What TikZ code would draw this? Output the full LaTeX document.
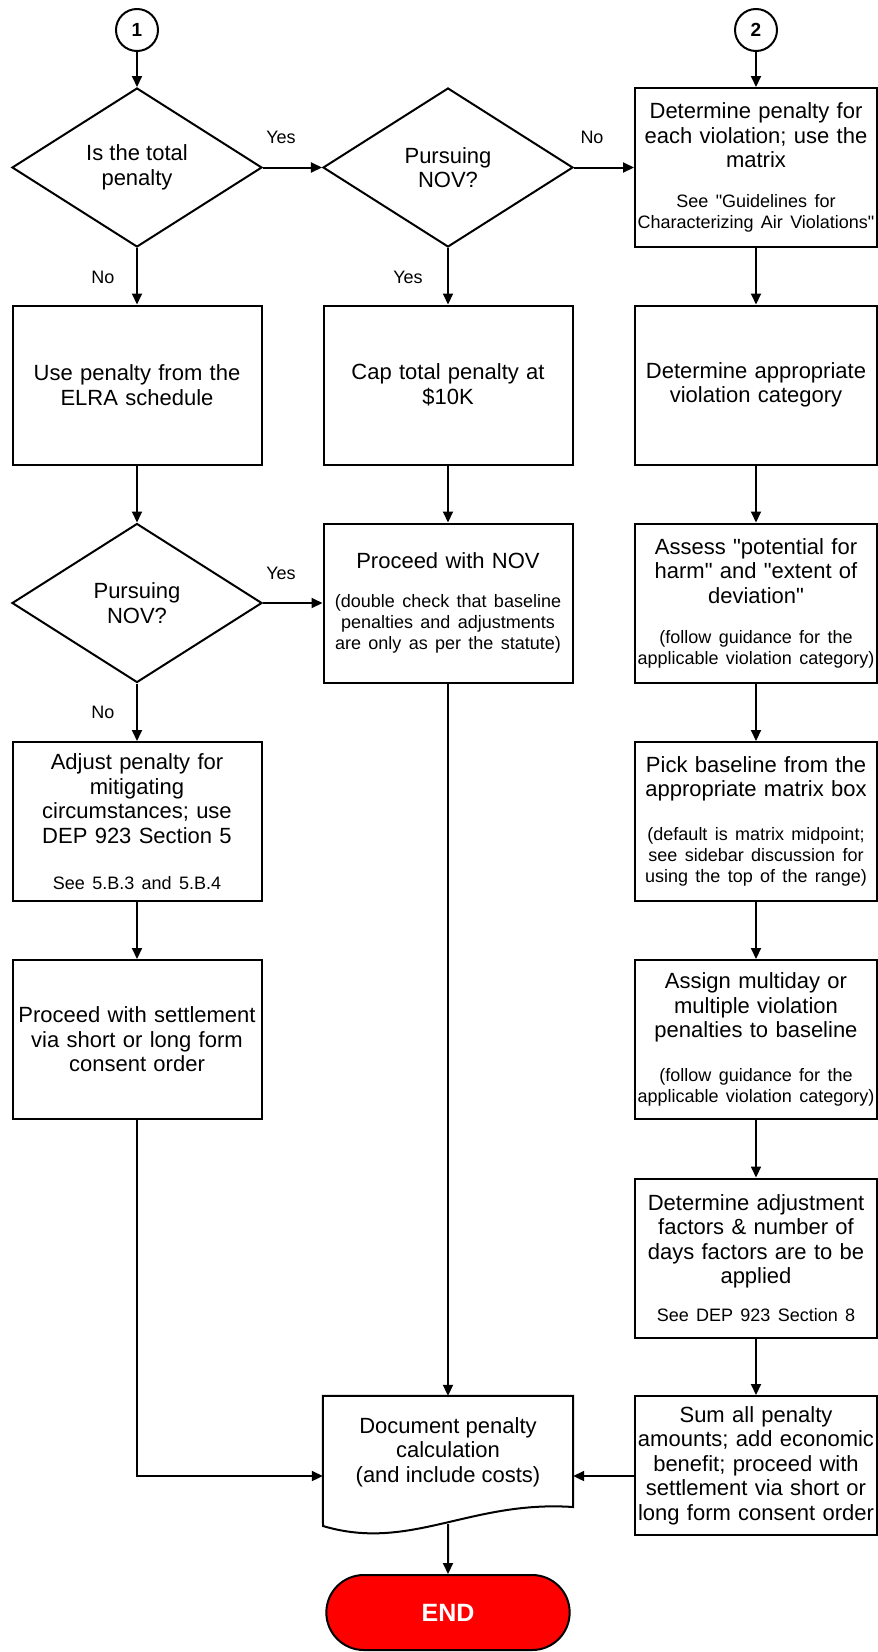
\documentclass[tikz,border=0pt]{standalone}
\usepackage{fontspec}
\setmainfont{Liberation Sans}[Ligatures=TeXOff]
\usetikzlibrary{shapes.geometric,shapes.misc,arrows.meta}
\newcommand{\mainfs}{\fontsize{22}{24.5}\selectfont}
\newcommand{\smallfs}{\fontsize{18}{21}\selectfont}
\newcommand{\lblfs}{\fontsize{18}{21}\selectfont}
\newcommand{\subtxt}[2]{\par\vspace{#1}{\smallfs #2\par}}
\begin{document}
\begin{tikzpicture}[x=1pt,y=-1pt,
  arr/.style={line width=2pt,-{Triangle[length=11pt,width=10pt]}},
  box/.style={draw,line width=2pt,rectangle,inner sep=0pt,minimum height=159pt,align=center,font=\mainfs},
  lbox/.style={box,minimum width=249pt,text width=245pt},
  rbox/.style={box,minimum width=242pt,text width=238pt},
  dec/.style={draw,line width=2pt,diamond,aspect=1.57,inner sep=0pt,minimum width=250pt,minimum height=159pt,align=center,font=\mainfs},
  conn/.style={draw,line width=2pt,circle,minimum size=42pt,inner sep=0pt,font=\fontsize{19}{21}\selectfont\bfseries},
  lbl/.style={font=\lblfs,inner sep=0pt},
  term/.style={draw,line width=2pt,rounded rectangle,fill=red,minimum width=250pt,minimum height=75pt,font=\fontsize{25}{28}\selectfont\bfseries,text=white}
]
\useasboundingbox (0,0) rectangle (878,1652);

% connectors (circles)
\node[conn] (c1) at (137,30) {1};
\node[conn] (c2) at (756,30) {2};

% row 1
\node[dec] (d1) at (137,167.5) {Is the total\\penalty};
\node[dec] (d2) at (448,167.5) {Pursuing\\NOV?};
\node[rbox] (r1) at (756,167.5) {Determine penalty for\\each violation; use the\\matrix\subtxt{19pt}{See "Guidelines for\\Characterizing Air Violations"}};

% row 2
\node[lbox] (l2) at (137,385) {Use penalty from the\\ELRA schedule};
\node[lbox] (m2) at (448,385) {Cap total penalty at\\\$10K};
\node[rbox] (r2) at (756,385) {Determine appropriate\\violation category};

% row 3
\node[dec] (d3) at (137,603) {Pursuing\\NOV?};
\node[lbox] (m3) at (448,603) {Proceed with NOV\subtxt{18pt}{(double check that baseline\\penalties and adjustments\\are only as per the statute)}};
\node[rbox] (r3) at (756,603) {Assess "potential for\\harm" and "extent of\\deviation"\subtxt{19pt}{(follow guidance for the\\applicable violation category)}};

% row 4
\node[lbox] (l4) at (137,821.5) {Adjust penalty for\\mitigating\\circumstances; use\\DEP 923 Section 5\subtxt{25pt}{See 5.B.3 and 5.B.4}};
\node[rbox] (r4) at (756,821.5) {Pick baseline from the\\appropriate matrix box\subtxt{23pt}{(default is matrix midpoint;\\see sidebar discussion for\\using the top of the range)}};

% row 5
\node[lbox] (l5) at (137,1039.5) {Proceed with settlement\\via short or long form\\consent order};
\node[rbox] (r5) at (756,1039.5) {Assign multiday or\\multiple violation\\penalties to baseline\subtxt{23pt}{(follow guidance for the\\applicable violation category)}};

% row 6
\node[rbox] (r6) at (756,1258) {Determine adjustment\\factors \& number of\\days factors are to be\\applied\subtxt{17pt}{See DEP 923 Section 8}};

% row 7
\node[rbox,minimum height=139pt] (r7) at (756,1465.5) {Sum all penalty\\amounts; add economic\\benefit; proceed with\\settlement via short or\\long form consent order};
\node[align=center,font=\mainfs,minimum width=250pt,minimum height=112pt,inner sep=0pt] (doc) at (448,1452) {Document penalty\\calculation\\(and include costs)};
\draw[line width=2pt] (doc.north west) -- (doc.north east) -- (573,1507)
  .. controls (470,1500) and (410,1552) .. (323,1526) -- cycle;
\coordinate (docb) at (448,1524);

% end
\node[term] (endn) at (448,1612.5) {END};

% labels
\node[lbl] (yes1) at (281,137) {Yes};
\node[lbl] (no1) at (592,137) {No};
\node[lbl] (no2) at (103,277) {No};
\node[lbl] (yes2) at (408,277) {Yes};
\node[lbl] (yes3) at (281,573) {Yes};
\node[lbl] (no3) at (103,712) {No};

% arrows
\draw[arr] (c1) -- (d1);
\draw[arr] (c2) -- (r1);
\draw[arr] (d1) -- (d2);
\draw[arr] (d2) -- (r1);
\draw[arr] (d1) -- (l2);
\draw[arr] (d2) -- (m2);
\draw[arr] (r1) -- (r2);
\draw[arr] (l2) -- (d3);
\draw[arr] (m2) -- (m3);
\draw[arr] (r2) -- (r3);
\draw[arr] (d3) -- (m3);
\draw[arr] (d3) -- (l4);
\draw[arr] (r3) -- (r4);
\draw[arr] (l4) -- (l5);
\draw[arr] (r4) -- (r5);
\draw[arr] (r5) -- (r6);
\draw[arr] (r6) -- (r7);
\draw[arr] (m3) -- (doc);
\draw[arr] (l5.south) |- ([yshift=-24pt]doc.west);
\draw[arr] ([yshift=-10.5pt]r7.west) -- ([yshift=-24pt]doc.east);
\draw[arr] (docb) -- (endn);
\end{tikzpicture}
\end{document}
